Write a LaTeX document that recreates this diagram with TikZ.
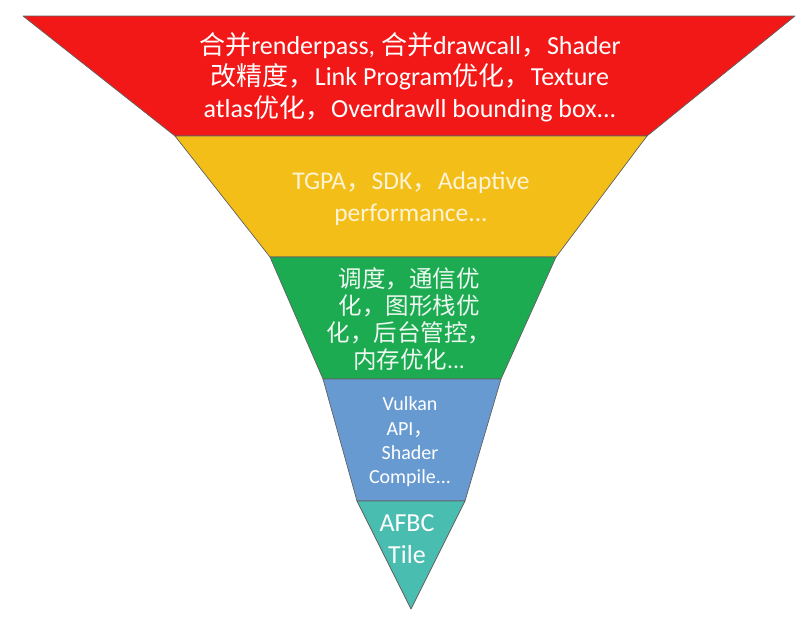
\documentclass[tikz,border=0pt]{standalone}
\usepackage{fontspec}
\setmainfont{Carlito}
\newfontfamily\cjkfont{Noto Sans CJK SC}
\newcommand{\zh}[1]{{\cjkfont #1}}
\usetikzlibrary{positioning}

\definecolor{funred}{RGB}{242,24,24}
\definecolor{funyellow}{RGB}{244,190,24}
\definecolor{fungreen}{RGB}{29,171,82}
\definecolor{funblue}{RGB}{104,154,210}
\definecolor{funteal}{RGB}{74,189,177}

\begin{document}
\begin{tikzpicture}[
  x=1pt, y=-1pt,
  band/.style={draw=gray!75!black, line width=0.7pt, line join=round},
  label/.style={text=white, align=center, inner sep=0pt, font=\fontsize{26}{31.5}\selectfont}
]
\useasboundingbox (0,0) rectangle (807,625);

% Bands
\filldraw[band, fill=funred]    (23,16) -- (795,16) -- (647,136) -- (175,136) -- cycle;
\filldraw[band, fill=funyellow] (175,136) -- (647,136) -- (556,257) -- (270,257) -- cycle;
\filldraw[band, fill=fungreen]  (270,257) -- (556,257) -- (501,379) -- (323,379) -- cycle;
\filldraw[band, fill=funblue]   (323,379) -- (501,379) -- (465,501) -- (357,501) -- cycle;
\filldraw[band, fill=funteal]   (357,501) -- (465,501) -- (411,609) -- cycle;

% Nodes
\node[label] (opt) at (410,77)
  {\zh{合并}renderpass, \zh{合并}drawcall\zh{，}Shader\\
   \zh{改精度，}Link Program\zh{优化，}Texture\\
   atlas\zh{优化，}Overdrawll bounding box...};
\node[label, text=white!82!funyellow, font=\fontsize{25.5}{32}\selectfont] (tool) at (411,199)
  {TGPA\zh{，}SDK\zh{，}Adaptive\\ performance...};
\node[label, text=white!92!fungreen, font=\fontsize{23.5}{27}\selectfont] (sys) at (409,319)
  {\zh{调度，通信优}\\ \zh{化，图形栈优}\\ \zh{化，后台管控，}\\ \zh{内存优化}...};
\node[label, font=\fontsize{20}{24.3}\selectfont] (api) at (410,442)
  {Vulkan\\ API\zh{，}\\ Shader\\ Compile...};
\node[label, font=\fontsize{26}{32}\selectfont] (hw) at (407,539)
  {AFBC\\ Tile};

\end{tikzpicture}
\end{document}
